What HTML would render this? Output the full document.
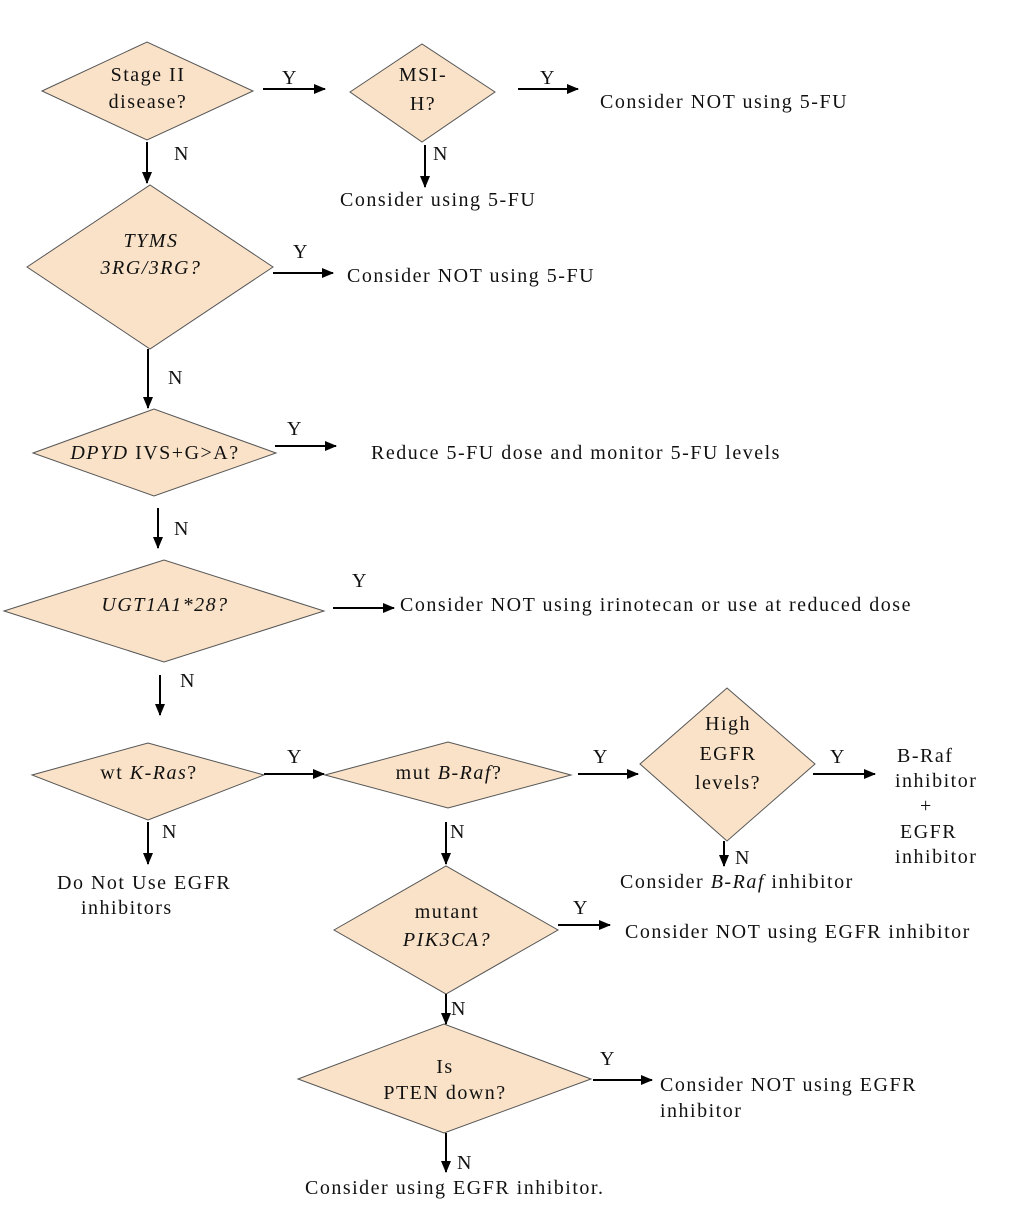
<!DOCTYPE html>
<html><head><meta charset="utf-8"><style>
html,body{margin:0;padding:0;background:#fff}
svg{display:block}
text{font-family:"Liberation Serif",serif;font-size:20px;letter-spacing:1.5px;fill:#111}
.c{text-anchor:middle}
polygon.d{fill:#f9e2c8;stroke:#555;stroke-width:1}
line{stroke:#000;stroke-width:2}
</style></head><body>
<svg width="1024" height="1223" viewBox="0 0 1024 1223" xmlns="http://www.w3.org/2000/svg">
<defs><marker id="a" markerWidth="12" markerHeight="10" refX="11" refY="5" orient="auto" markerUnits="userSpaceOnUse"><path d="M0,0 L12,5 L0,10 z" fill="#000"/></marker></defs>

<polygon class="d" points="42,91 147,42 253,91 147,140"/>
<polygon class="d" points="350,92 422,44 495,92 422,142"/>
<polygon class="d" points="27,267 150,185 273,267 150,349"/>
<polygon class="d" points="33,453 154,409 276,453 154,496"/>
<polygon class="d" points="4,611 164,560 324,611 164,662"/>
<polygon class="d" points="32,775 148,743 264,775 148,820"/>
<polygon class="d" points="325,775 448,742 571,775 448,808"/>
<polygon class="d" points="640,764 727,688 815,764 727,841"/>
<polygon class="d" points="334,930 446,866 558,930 446,994"/>
<polygon class="d" points="298,1079 444,1024 591,1079 444,1133"/>

<g marker-end="url(#a)">
<line x1="263" y1="89" x2="325" y2="89"/>
<line x1="518" y1="89" x2="578" y2="89"/>
<line x1="425" y1="145" x2="425" y2="187"/>
<line x1="147" y1="142" x2="147" y2="183"/>
<line x1="273" y1="273" x2="333" y2="273"/>
<line x1="148" y1="349" x2="148" y2="408"/>
<line x1="275" y1="446" x2="336" y2="446"/>
<line x1="158" y1="508" x2="158" y2="548"/>
<line x1="333" y1="608" x2="394" y2="608"/>
<line x1="160" y1="675" x2="160" y2="715"/>
<line x1="264" y1="774" x2="324" y2="774"/>
<line x1="148" y1="822" x2="148" y2="864"/>
<line x1="578" y1="774" x2="638" y2="774"/>
<line x1="446" y1="822" x2="446" y2="864"/>
<line x1="813" y1="774" x2="875" y2="774"/>
<line x1="724" y1="841" x2="724" y2="866"/>
<line x1="558" y1="925" x2="610" y2="925"/>
<line x1="446" y1="994" x2="446" y2="1024"/>
<line x1="593" y1="1080" x2="652" y2="1080"/>
<line x1="446" y1="1133" x2="446" y2="1172"/>
</g>

<text x="290" y="84" class="c">Y</text>
<text x="548" y="84" class="c">Y</text>
<text x="433" y="160">N</text>
<text x="174" y="160">N</text>
<text x="301" y="258" class="c">Y</text>
<text x="168" y="384">N</text>
<text x="295" y="435" class="c">Y</text>
<text x="174" y="535">N</text>
<text x="360" y="587" class="c">Y</text>
<text x="180" y="687">N</text>
<text x="295" y="763" class="c">Y</text>
<text x="162" y="838">N</text>
<text x="601" y="763" class="c">Y</text>
<text x="450" y="838">N</text>
<text x="838" y="763" class="c">Y</text>
<text x="735" y="864">N</text>
<text x="581" y="914" class="c">Y</text>
<text x="451" y="1015">N</text>
<text x="608" y="1065" class="c">Y</text>
<text x="457" y="1169">N</text>

<text x="148" y="81" class="c">Stage II</text>
<text x="148" y="108" class="c">disease?</text>
<text x="423" y="81" class="c">MSI-</text>
<text x="423" y="110" class="c">H?</text>
<text x="151" y="247" class="c" font-style="italic">TYMS</text>
<text x="151" y="274" class="c" font-style="italic">3RG/3RG?</text>
<text x="155" y="459" class="c"><tspan font-style="italic">DPYD</tspan> IVS+G&gt;A?</text>
<text x="165" y="611" class="c" font-style="italic">UGT1A1*28?</text>
<text x="149" y="779" class="c">wt <tspan font-style="italic">K-Ras</tspan>?</text>
<text x="449" y="779" class="c">mut <tspan font-style="italic">B-Raf</tspan>?</text>
<text x="728" y="730" class="c">High</text>
<text x="728" y="760" class="c">EGFR</text>
<text x="728" y="789" class="c">levels?</text>
<text x="447" y="918" class="c">mutant</text>
<text x="447" y="946" class="c" font-style="italic">PIK3CA?</text>
<text x="445" y="1073" class="c">Is</text>
<text x="445" y="1099" class="c">PTEN down?</text>

<text x="600" y="108">Consider NOT using 5-FU</text>
<text x="340" y="206">Consider using 5-FU</text>
<text x="347" y="282">Consider NOT using 5-FU</text>
<text x="371" y="459">Reduce 5-FU dose and monitor 5-FU levels</text>
<text x="400" y="611">Consider NOT using irinotecan or use at reduced dose</text>
<text x="57" y="889">Do Not Use EGFR</text>
<text x="81" y="914">inhibitors</text>
<text x="897" y="762">B-Raf</text>
<text x="895" y="787">inhibitor</text>
<text x="920" y="812">+</text>
<text x="900" y="838">EGFR</text>
<text x="895" y="863">inhibitor</text>
<text x="620" y="888">Consider <tspan font-style="italic">B-Raf</tspan> inhibitor</text>
<text x="625" y="938">Consider NOT using EGFR inhibitor</text>
<text x="660" y="1091">Consider NOT using EGFR</text>
<text x="660" y="1117">inhibitor</text>
<text x="305" y="1194">Consider using EGFR inhibitor.</text>
</svg>
</body></html>
